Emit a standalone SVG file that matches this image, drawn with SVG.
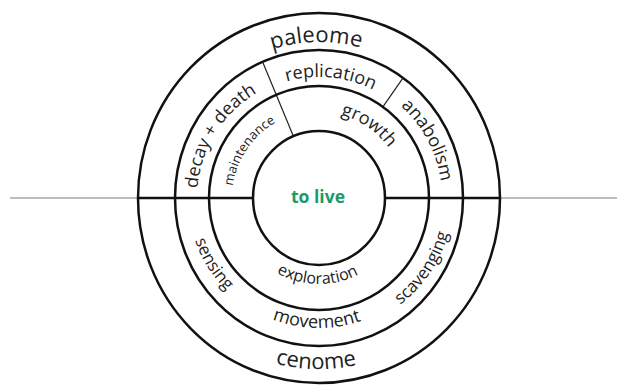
<svg xmlns="http://www.w3.org/2000/svg" xmlns:xlink="http://www.w3.org/1999/xlink" width="620" height="387" viewBox="0 0 620 387">
<style>
.ring{fill:none;stroke:#111;stroke-width:2.5}
.div{stroke:#222;stroke-width:1.2}
.hl{stroke:#111;stroke-width:2.5}
.gl{stroke:#bdbdbd;stroke-width:2}
.t{font-family:"Open Sans","Noto Sans",sans-serif;fill:#222}
.live{font-family:"Open Sans","Noto Sans",sans-serif;font-weight:bold;font-size:17.5px;fill:#1a9a68}
</style>
<defs>
<path id="p-paleome" d="M182.6,122.4 A156,156 0 0 1 452.7,117.7"/>
<path id="p-replication" d="M220.5,127.7 A121,121 0 0 1 429.1,147.8"/>
<path id="p-decay" d="M211.3,255.3 A122,122 0 0 1 323.3,76.1"/>
<path id="p-anabolism" d="M323.3,75.1 A123,123 0 0 1 423.3,263.2"/>
<path id="p-maintenance" d="M240.8,236.1 A87,87 0 0 1 325.1,111.2"/>
<path id="p-growth" d="M282.0,120.4 A86,86 0 0 1 404.7,204.8"/>
<path id="p-exploration" d="M243.8,239.7 A86,86 0 0 0 392.7,242.3"/>
<path id="p-movement" d="M205.3,261.0 A130,130 0 0 0 430.4,265.0"/>
<path id="p-cenome" d="M169.4,280.9 A171,171 0 0 0 465.6,286.1"/>
<path id="p-sensing" d="M203.3,136.5 A131,131 0 0 0 323.6,328.9"/>
<path id="p-scavenging" d="M309.6,331.7 A134,134 0 0 0 439.4,139.3"/>
</defs>
<rect width="620" height="387" fill="#fff"/>
<g id="connectors">
<line class="gl" x1="10" y1="198" x2="138" y2="198"/>
<line class="gl" x1="500" y1="198" x2="617" y2="198"/>
<line class="hl" x1="138" y1="198" x2="253" y2="198"/>
<line class="hl" x1="385" y1="198" x2="500" y2="198"/>
<line class="div" x1="263.1" y1="63.1" x2="293.7" y2="137.0"/>
<line class="div" x1="402.7" y1="78.4" x2="382.7" y2="107.1"/>
</g>
<g id="rings">
<ellipse class="ring" cx="319" cy="198" rx="181" ry="185"/>
<ellipse class="ring" cx="319" cy="198" rx="144" ry="148"/>
<ellipse class="ring" cx="319" cy="198" rx="110" ry="112"/>
<ellipse class="ring" cx="319" cy="198" rx="66" ry="67"/>
</g>
<g id="paleome"><text class="t" font-size="22"><textPath xlink:href="#p-paleome" startOffset="50%" text-anchor="middle">paleome</textPath></text></g>
<g id="replication"><text class="t" font-size="18"><textPath xlink:href="#p-replication" startOffset="50%" text-anchor="middle">replication</textPath></text></g>
<g id="decay-death"><text class="t" font-size="18"><textPath xlink:href="#p-decay" startOffset="50%" text-anchor="middle">decay + death</textPath></text></g>
<g id="anabolism"><text class="t" font-size="18"><textPath xlink:href="#p-anabolism" startOffset="50%" text-anchor="middle">anabolism</textPath></text></g>
<g id="maintenance"><text class="t" font-size="13"><textPath xlink:href="#p-maintenance" startOffset="50%" text-anchor="middle">maintenance</textPath></text></g>
<g id="growth"><text class="t" font-size="18"><textPath xlink:href="#p-growth" startOffset="50%" text-anchor="middle">growth</textPath></text></g>
<g id="to-live"><text class="live" x="318" y="203" text-anchor="middle">to live</text></g>
<g id="exploration"><text class="t" font-size="16"><textPath xlink:href="#p-exploration" startOffset="50%" text-anchor="middle">exploration</textPath></text></g>
<g id="movement"><text class="t" font-size="18"><textPath xlink:href="#p-movement" startOffset="50%" text-anchor="middle">movement</textPath></text></g>
<g id="cenome"><text class="t" font-size="22"><textPath xlink:href="#p-cenome" startOffset="50%" text-anchor="middle">cenome</textPath></text></g>
<g id="sensing"><text class="t" font-size="17"><textPath xlink:href="#p-sensing" startOffset="50%" text-anchor="middle">sensing</textPath></text></g>
<g id="scavenging"><text class="t" font-size="17"><textPath xlink:href="#p-scavenging" startOffset="50%" text-anchor="middle">scavenging</textPath></text></g>
</svg>
